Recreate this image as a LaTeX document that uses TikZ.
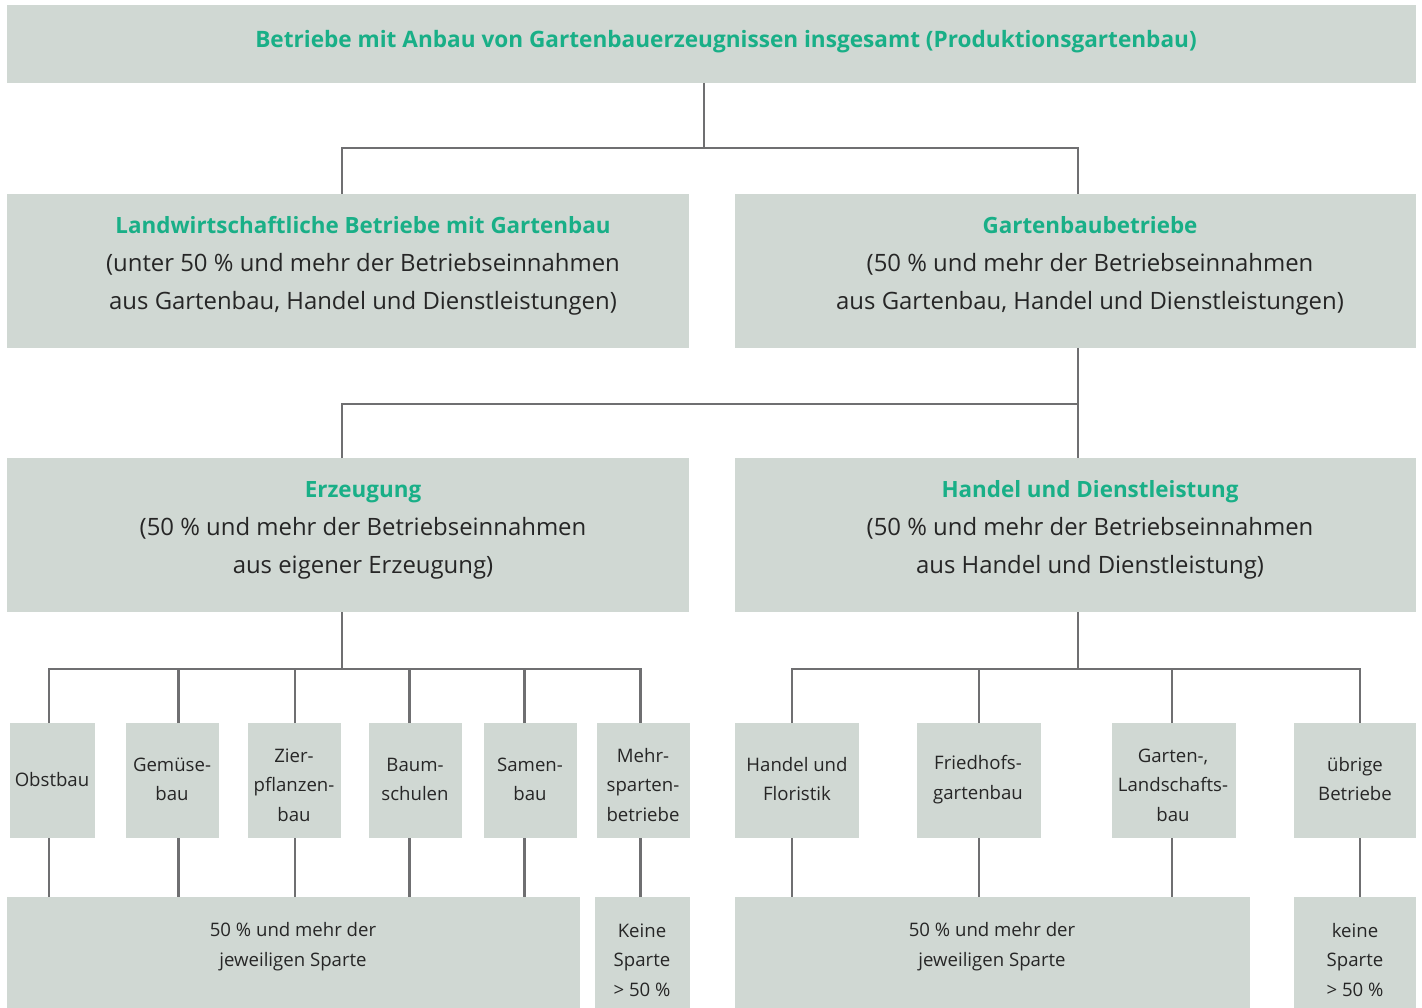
\documentclass[tikz,border=0pt]{standalone}
\usepackage{fontspec}
\setmainfont{Open Sans}
\definecolor{boxfill}{HTML}{D0D8D3}
\definecolor{hgreen}{HTML}{19AF87}
\definecolor{linegray}{HTML}{6F6F71}
\definecolor{txt}{HTML}{262626}
\newcommand\bx[5]{\node[box, anchor=north west, minimum width={(#4-#2)*1pt}, minimum height={(#5-#3)*1pt}] (#1) at (#2,#3) {};}
\newcommand\hd[1]{{\color{hgreen}\fontsize{22.4}{38}\selectfont\bfseries #1}}
\begin{document}
\begin{tikzpicture}[x=1pt,y=-1pt,
  box/.style={fill=boxfill, draw=none, inner sep=0pt, outer sep=0pt},
  conn/.style={draw=linegray, line width=2.5pt, line join=miter},
  title/.style={font=\fontsize{22.6}{30}\selectfont\bfseries, text=hgreen, inner sep=0pt},
  big/.style={font=\fontsize{23.9}{38}\selectfont, text=txt, align=center, inner sep=0pt},
  small/.style={font=\fontsize{18.6}{29.5}\selectfont, text=txt, align=center, inner sep=0pt}]
\useasboundingbox (0,0) rectangle (1422,1008);
% boxes
\bx{top}{7}{5}{1416}{83}
\bx{lw}{7}{194}{689}{348}
\bx{gb}{735}{194}{1416}{348}
\bx{erz}{7}{458}{689}{612}
\bx{hdb}{735}{458}{1416}{612}
\bx{ob}{10}{723}{95}{838}
\bx{ge}{126}{723}{219}{838}
\bx{zi}{248}{723}{341}{838}
\bx{ba}{369}{723}{462}{838}
\bx{sa}{484}{723}{577}{838}
\bx{me}{597}{723}{690}{838}
\bx{hf}{735}{723}{859}{838}
\bx{fr}{917}{723}{1041}{838}
\bx{gl}{1112}{723}{1236}{838}
\bx{ub}{1294}{723}{1416}{838}
\bx{bl}{7}{897}{580}{1008}
\bx{ks}{595}{897}{690}{1008}
\bx{br}{735}{897}{1250}{1008}
\bx{kr}{1294}{897}{1416}{1008}
% texts
\node[title] (topt) at (726,42) {Betriebe mit Anbau von Gartenbauerzeugnissen insgesamt (Produktionsgartenbau)};
\node[big] (lwt) at (363,265.5) {\hd{Landwirtschaftliche Betriebe mit Gartenbau}\\(unter 50 \% und mehr der Betriebseinnahmen\\aus Gartenbau, Handel und Dienstleistungen)};
\node[big] (gbt) at (1090,265.5) {\hd{Gartenbaubetriebe}\\(50 \% und mehr der Betriebseinnahmen\\aus Gartenbau, Handel und Dienstleistungen)};
\node[big] (erzt) at (363,530) {\hd{Erzeugung}\\(50 \% und mehr der Betriebseinnahmen\\aus eigener Erzeugung)};
\node[big] (hdt) at (1090,529.5) {\hd{Handel und Dienstleistung}\\(50 \% und mehr der Betriebseinnahmen\\aus Handel und Dienstleistung)};
\node[small] (obt) at (52,780) {Obstbau};
\node[small] (get) at (172,779.5) {Gemüse-\\bau};
\node[small] (zit) at (294,785) {Zier-\\pflanzen-\\bau};
\node[small] (bat) at (415,779.5) {Baum-\\schulen};
\node[small] (sat) at (530,779.5) {Samen-\\bau};
\node[small] (met) at (643,785) {Mehr-\\sparten-\\betriebe};
\node[small] (hft) at (797,779) {Handel und\\Floristik};
\node[small] (frt) at (978,779.5) {Friedhofs-\\gartenbau};
\node[small] (glt) at (1173,785) {Garten-,\\Landschafts-\\bau};
\node[small] (ubt) at (1355,779) {übrige\\Betriebe};
\node[small] (blt) at (293,946.5) {50 \% und mehr der\\jeweiligen Sparte};
\node[small] (kst) at (642,960) {Keine\\Sparte\\> 50 \%};
\node[small] (brt) at (992,946.5) {50 \% und mehr der\\jeweiligen Sparte};
\node[small] (krt) at (1355,960) {keine\\Sparte\\> 50 \%};
% bus coordinates
\coordinate (bus1) at (0,148);
\coordinate (bus2) at (0,404);
\coordinate (bus3) at (0,669);
% level 1
\draw[conn] ([xshift=-7.5pt]top.south) -- ([xshift=-7.5pt]top.south |- bus1);
\draw[conn] ([xshift=-6pt]lw.north) |- ([xshift=2.5pt]gb.north |- bus1) -- ([xshift=2.5pt]gb.north);
% level 2
\draw[conn] ([xshift=2.5pt]gb.south) -- ([xshift=2.5pt]hdb.north);
\draw[conn] ([xshift=-6pt]erz.north) |- ([xshift=2.5pt]hdb.north |- bus2);
% level 3 left
\draw[conn] ([xshift=-6pt]erz.south) -- ([xshift=-6pt]erz.south |- bus3);
\draw[conn] ([xshift=-3.5pt]ob.north) |- ([xshift=-3pt]me.north |- bus3) -- ([xshift=-3pt]me.north);
\foreach \n/\s in {ge/6,zi/0.5,ba/-6,sa/-6}{
  \draw[conn] ([xshift=\s pt]\n.north) -- ([xshift=\s pt]\n.north |- bus3);
}
% level 3 right
\draw[conn] ([xshift=2.5pt]hdb.south) -- ([xshift=2.5pt]hdb.south |- bus3);
\draw[conn] ([xshift=-5pt]hf.north) |- ([xshift=5pt]ub.north |- bus3) -- ([xshift=5pt]ub.north);
\foreach \n/\s in {fr/0,gl/-2}{
  \draw[conn] ([xshift=\s pt]\n.north) -- ([xshift=\s pt]\n.north |- bus3);
}
% level 4
\foreach \n/\s/\t in {ob/-3.5/bl,ge/6/bl,zi/0.5/bl,ba/-6/bl,sa/-6/bl,hf/-5/br,fr/0/br,gl/-2/br}{
  \draw[conn] ([xshift=\s pt]\n.south) -- ([xshift=\s pt]\n.south |- \t.north);
}
\draw[conn] ([xshift=-3pt]me.south) -- ([xshift=-3pt]me.south |- ks.north);
\draw[conn] ([xshift=5pt]ub.south) -- ([xshift=5pt]ub.south |- kr.north);
\end{tikzpicture}
\end{document}
